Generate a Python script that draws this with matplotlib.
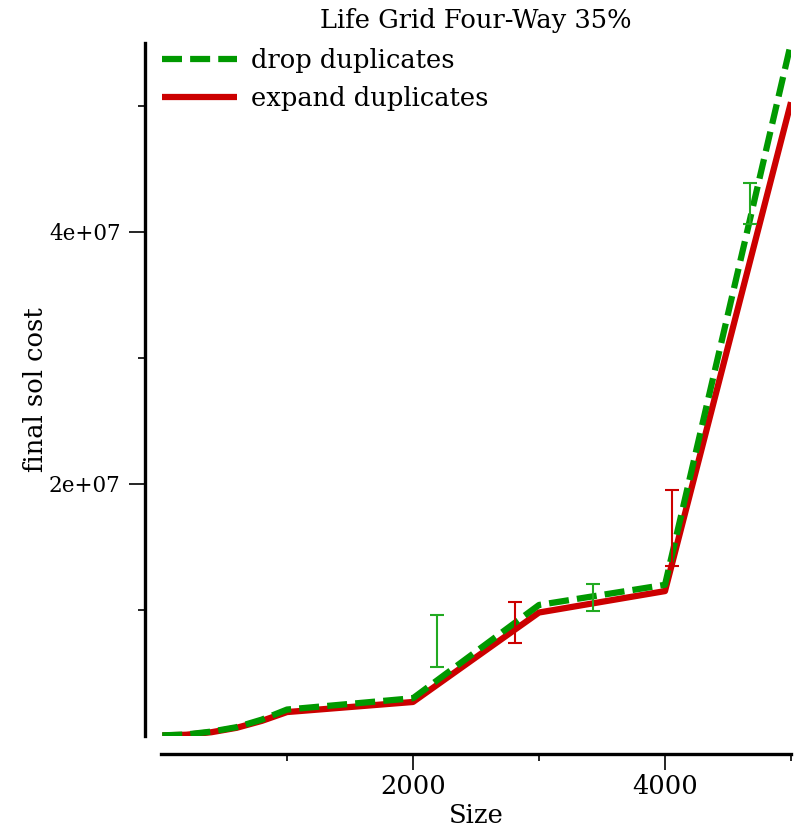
import numpy as np
import matplotlib
matplotlib.use('Agg')
import matplotlib.pyplot as plt

plt.rcParams['font.family'] = ['DejaVu Serif']

# mides i cost final de cada variant
sizes = [10, 200, 400, 600, 800, 1000, 2000, 3000, 4000, 5000]
drop_cost = [0.05e6, 0.12e6, 0.35e6, 0.7e6, 1.3e6, 2.1e6, 3.0e6, 10.4e6, 12.0e6, 55.0e6]
expand_cost = [0.05e6, 0.1e6, 0.3e6, 0.65e6, 1.2e6, 1.9e6, 2.7e6, 9.8e6, 11.5e6, 50.3e6]

# barres d'error (posicio, minim, maxim)
drop_err_x = [2190, 3430, 4675]
drop_err_lo = [5.5e6, 9.9e6, 40.6e6]
drop_err_hi = [9.6e6, 12.1e6, 43.9e6]
expand_err_x = [2810, 4055]
expand_err_lo = [7.4e6, 13.5e6]
expand_err_hi = [10.6e6, 19.5e6]

green = '#009900'
red = '#cc0000'
fs = 18.5

fig = plt.figure(figsize=(7.99, 8.32), dpi=100)
ax = fig.add_axes([161/799, 96/832, 630/799, 693/832])

ax.plot(sizes, expand_cost, color=red, lw=4.5, solid_capstyle='butt', label='expand duplicates', zorder=3)
ax.plot(sizes, drop_cost, color=green, lw=4.5, ls=(0, (3.2, 1.3)), dash_capstyle='butt', label='drop duplicates', zorder=4)

# error bars
for xs, lo, hi, c in [(drop_err_x, drop_err_lo, drop_err_hi, '#22aa22'), (expand_err_x, expand_err_lo, expand_err_hi, red)]:
    mid = (np.array(lo) + np.array(hi)) / 2
    err = (np.array(hi) - np.array(lo)) / 2
    ax.errorbar(xs, mid, yerr=err, fmt='none', ecolor=c, elinewidth=1.5, capsize=5, capthick=1.5, zorder=5)

ax.set_xlim(0, 5000)
ax.set_ylim(0, 5.5e7)

for s in ['top', 'right']:
    ax.spines[s].set_visible(False)
ax.spines['left'].set_position(('outward', 11.5))
ax.spines['bottom'].set_position(('outward', 13))
ax.spines['left'].set_linewidth(2.4)
ax.spines['bottom'].set_linewidth(2.4)
ax.spines['left'].set_bounds(0, 5.5e7)
ax.spines['bottom'].set_bounds(0, 5000)

ax.set_xticks([2000, 4000])
ax.set_xticklabels(['2000', '4000'])
ax.set_xticks([1000, 3000, 5000], minor=True)
ax.set_yticks([2e7, 4e7])
ax.set_yticklabels(['2e+07', '4e+07'])
ax.set_yticks([1e7, 3e7, 5e7], minor=True)
ax.tick_params(which='major', length=11.5, width=1.2, labelsize=fs)
ax.tick_params(axis='y', which='major', pad=6, labelsize=15.5)
ax.tick_params(axis='x', which='major', pad=3)
ax.tick_params(which='minor', length=5, width=1.2)

ax.set_xlabel('Size', fontsize=fs, labelpad=3)
ax.set_ylabel('final sol cost', fontsize=fs)
ax.yaxis.set_label_coords(-0.18, 0.5)
ax.set_title('Life Grid Four-Way 35%', fontsize=fs, pad=10.5)

h, l = ax.get_legend_handles_labels()
ax.legend(h[::-1], l[::-1], loc='upper left', bbox_to_anchor=(-0.014, 1.008), frameon=False,
          fontsize=fs, handlelength=2.9, handletextpad=0.55, labelspacing=0.5, borderaxespad=0.0)

plt.savefig('out.png', dpi=100)
